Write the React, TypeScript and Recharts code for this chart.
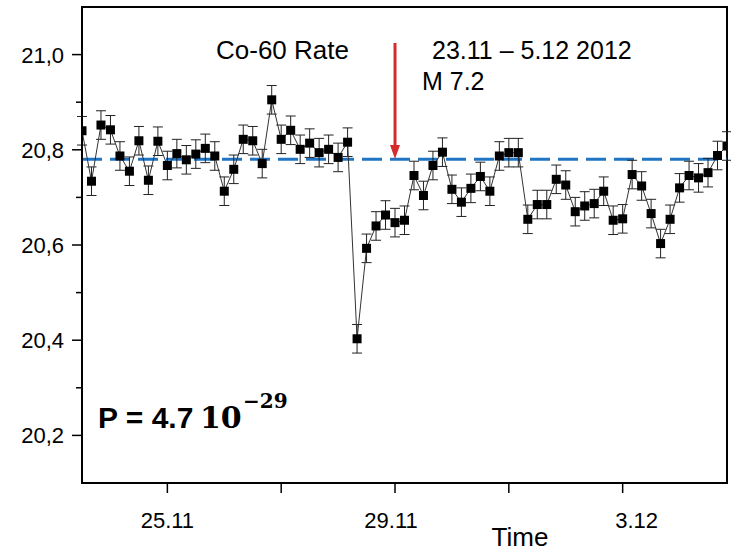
import React from "react";
import { ComposedChart, Line, XAxis, YAxis, ErrorBar, ReferenceLine, ReferenceArea } from "recharts";

// Co-60 count rate, one reading every 4 hours from 23.11 12:00
const STEP_HOURS = 4;
const rate = [
  20.840, 20.734, 20.852, 20.842, 20.787, 20.755, 20.819, 20.736, 20.818, 20.767,
  20.792, 20.779, 20.791, 20.803, 20.787, 20.713, 20.759, 20.822, 20.819, 20.771,
  20.905, 20.822, 20.841, 20.801, 20.814, 20.794, 20.801, 20.784, 20.816, 20.403,
  20.593, 20.640, 20.663, 20.647, 20.652, 20.746, 20.704, 20.767, 20.795, 20.717,
  20.690, 20.719, 20.744, 20.713, 20.787, 20.794, 20.794, 20.654, 20.685, 20.685,
  20.738, 20.726, 20.670, 20.682, 20.687, 20.713, 20.652, 20.655, 20.748, 20.724,
  20.666, 20.603, 20.654, 20.720, 20.746, 20.741, 20.752, 20.788, 20.808,
];
const RATE_ERR = 0.03;
const MEAN_RATE = 20.78;

// hours since 23.11 12:00
const xTicks = [36, 84, 132, 180, 228];
const xTickLabels = ["25.11", "", "29.11", "", "3.12"];
const xLabelShift = [0, 0, -4, 0, 14];
const yTicks = [20.2, 20.3, 20.4, 20.5, 20.6, 20.7, 20.8, 20.9, 21.0];
const QUAKE_HOUR = 132;

const data = rate.map((v, i) => ({ t: i * STEP_HOURS, v, err: RATE_ERR }));

const FONT = "Arial, 'Liberation Sans', sans-serif";
const PLOT = { left: 82, right: 727, top: 7, bottom: 483 };
const X_MAX = 272;

const SquareDot = (props: any) => {
  const { cx, cy, index } = props;
  if (cx == null || cy == null) return null;
  return <rect key={`d-${index}`} x={cx - 4.5} y={cy - 4.5} width={9} height={9} fill="#000" />;
};

const XTick = ({ x, y, index }: any) => {
  const label = xTickLabels[index];
  return (
    <g>
      <line x1={x} x2={x} y1={y} y2={y + 10} stroke="#000" strokeWidth={1.5} />
      {label && (
        <text x={x + xLabelShift[index]} y={y + 45} textAnchor="middle" fontSize={22} fontFamily={FONT} fill="#000">
          {label}
        </text>
      )}
    </g>
  );
};

const YTick = ({ x, y, payload }: any) => {
  const major = Math.round(payload.value * 10) % 2 === 0;
  return (
    <g>
      <line x1={x - (major ? 10 : 6)} x2={x} y1={y} y2={y} stroke="#000" strokeWidth={1.5} />
      {major && (
        <text x={x - 18} y={y + 8} textAnchor="end" fontSize={22} fontFamily={FONT} fill="#000">
          {payload.value.toFixed(1).replace(".", ",")}
        </text>
      )}
    </g>
  );
};

export default function App() {
  const quakeX = PLOT.left + (QUAKE_HOUR / X_MAX) * (PLOT.right - PLOT.left);
  return (
    <div style={{ position: "absolute", left: 0, top: 0, width: 731, height: 551, background: "#fff" }}>
      <ComposedChart
        width={731}
        height={551}
        data={data}
        margin={{ top: PLOT.top, right: 731 - PLOT.right, left: 0, bottom: 0 }}
      >
        <ReferenceArea
          x1={0}
          x2={X_MAX}
          y1={20.1}
          y2={21.1}
          fill="none"
          stroke="#000"
          strokeWidth={2}
          fillOpacity={0}
        />
        <XAxis
          type="number"
          dataKey="t"
          domain={[0, X_MAX]}
          ticks={xTicks}
          allowDataOverflow
          height={68}
          tickSize={0}
          tickMargin={0}
          tickLine={false}
          axisLine={{ stroke: "#000", strokeWidth: 2 }}
          tick={<XTick />}
          interval={0}
        />
        <YAxis
          type="number"
          domain={[20.1, 21.1]}
          ticks={yTicks}
          allowDataOverflow
          width={PLOT.left}
          tickSize={0}
          tickMargin={0}
          tickLine={false}
          axisLine={{ stroke: "#000", strokeWidth: 2 }}
          tick={<YTick />}
          interval={0}
        />
        <ReferenceLine y={MEAN_RATE} stroke="#1f75c4" strokeWidth={3} strokeDasharray="20 8" />
        <Line
          dataKey="v"
          stroke="#333"
          strokeWidth={1}
          dot={SquareDot}
          activeDot={false}
          isAnimationActive={false}
        >
          <ErrorBar dataKey="err" direction="y" width={5} stroke="#222" strokeWidth={1} />
        </Line>
      </ComposedChart>
      <svg width={731} height={551} style={{ position: "absolute", left: 0, top: 0, pointerEvents: "none" }}>
        <line x1={quakeX} x2={quakeX} y1={43} y2={147} stroke="#d42b2b" strokeWidth={3} />
        <polygon points={`${quakeX - 5},145 ${quakeX + 5},145 ${quakeX},159`} fill="#d42b2b" />
        <text x={216} y={59} fontSize={26} fontFamily={FONT} fill="#000">Co-60 Rate</text>
        <text x={432} y={59} fontSize={25} fontFamily={FONT} fill="#000">23.11 – 5.12 2012</text>
        <text x={422} y={90} fontSize={25} fontFamily={FONT} fill="#000">M 7.2</text>
        <text x={98} y={428} fontSize={30} fontWeight="bold" fontFamily={FONT} fill="#000">P = 4.7</text>
        <text x={200} y={428} fontSize={30} fontWeight="bold" fontFamily="'DejaVu Serif', serif" fill="#000">10</text>
        <text x={243} y={408} fontSize={20} fontWeight="bold" fontFamily="'DejaVu Serif', serif" fill="#000">−29</text>
        <text x={520} y={546} fontSize={26} textAnchor="middle" fontFamily={FONT} fill="#000">Time</text>
      </svg>
    </div>
  );
}
